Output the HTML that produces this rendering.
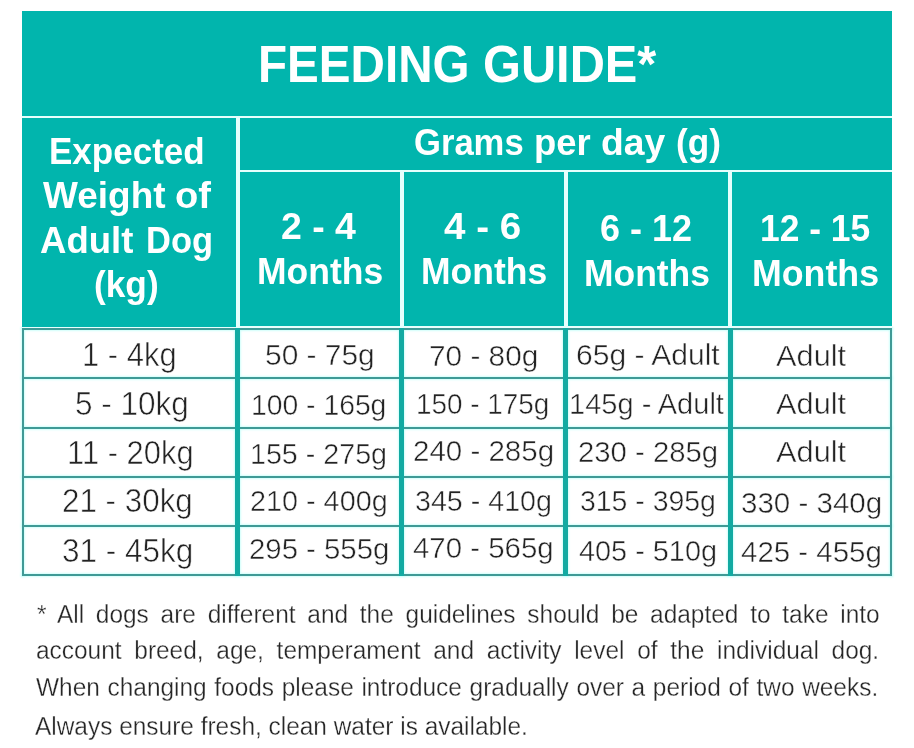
<!DOCTYPE html>
<html lang="en">
<head>
<meta charset="utf-8">
<title>Feeding Guide</title>
<style>
html,body{margin:0;padding:0;background:#ffffff;}
body{width:914px;height:748px;position:relative;overflow:hidden;font-family:"Liberation Sans",Arial,sans-serif;}
.r{position:absolute;}
.h{box-shadow:0 0 2px 1px rgba(200,255,251,0.85);}
.t{position:absolute;display:block;white-space:pre;line-height:1;transform-origin:0 0;}
</style>
</head>
<body>
<div class="r h" style="left:22px;top:328px;width:870px;height:2px"></div>
<div class="r h" style="left:22px;top:377px;width:870px;height:2px"></div>
<div class="r h" style="left:22px;top:427px;width:870px;height:2px"></div>
<div class="r h" style="left:22px;top:476px;width:870px;height:2px"></div>
<div class="r h" style="left:22px;top:525px;width:870px;height:2px"></div>
<div class="r h" style="left:22px;top:574px;width:870px;height:2px"></div>
<div class="r h" style="left:22px;top:328px;width:2px;height:248px"></div>
<div class="r h" style="left:890px;top:328px;width:2px;height:248px"></div>
<div class="r h" style="left:235.2px;top:328px;width:4.7px;height:248px"></div>
<div class="r h" style="left:399.2px;top:328px;width:4.8px;height:248px"></div>
<div class="r h" style="left:563px;top:328px;width:5px;height:248px"></div>
<div class="r h" style="left:728px;top:328px;width:5px;height:248px"></div>
<div class="r" style="left:22px;top:11px;width:870px;height:317px;background:#e6fffd"></div>
<div class="r" style="left:22px;top:11px;width:870px;height:105px;background:#01b5ad"></div>
<div class="r" style="left:22px;top:118px;width:214px;height:208.5px;background:#01b5ad"></div>
<div class="r" style="left:240px;top:118px;width:652px;height:51.7px;background:#01b5ad"></div>
<div class="r" style="left:240px;top:172px;width:160px;height:153.8px;background:#01b5ad"></div>
<div class="r" style="left:404px;top:172px;width:160px;height:153.8px;background:#01b5ad"></div>
<div class="r" style="left:568px;top:172px;width:160px;height:153.8px;background:#01b5ad"></div>
<div class="r" style="left:732px;top:172px;width:160px;height:153.8px;background:#01b5ad"></div>
<div class="r" style="left:22px;top:328px;width:870px;height:2px;background:#3f9a96"></div>
<div class="r" style="left:22px;top:377px;width:870px;height:2px;background:#3f9a96"></div>
<div class="r" style="left:22px;top:427px;width:870px;height:2px;background:#3f9a96"></div>
<div class="r" style="left:22px;top:476px;width:870px;height:2px;background:#3f9a96"></div>
<div class="r" style="left:22px;top:525px;width:870px;height:2px;background:#3f9a96"></div>
<div class="r" style="left:22px;top:574px;width:870px;height:2px;background:#3f9a96"></div>
<div class="r" style="left:22px;top:328px;width:2px;height:248px;background:#3f9a96"></div>
<div class="r" style="left:890px;top:328px;width:2px;height:248px;background:#3f9a96"></div>
<div class="r" style="left:235.2px;top:328px;width:4.7px;height:248px;background:#12aaa2"></div>
<div class="r" style="left:399.2px;top:328px;width:4.8px;height:248px;background:#12aaa2"></div>
<div class="r" style="left:563px;top:328px;width:5px;height:248px;background:#12aaa2"></div>
<div class="r" style="left:728px;top:328px;width:5px;height:248px;background:#12aaa2"></div>
<div><span class="t" style="left:258.24px;top:39px;font-size:51.7px;font-weight:700;color:#ffffff;transform:scaleX(0.9206);">FEEDING</span> <span class="t" style="left:482.51px;top:39px;font-size:51.7px;font-weight:700;color:#ffffff;transform:scaleX(0.9429);">GUIDE*</span></div>
<div><span class="t" style="left:49.11px;top:133px;font-size:37px;font-weight:700;color:#ffffff;transform:scaleX(0.9463);">Expected</span> <span class="t" style="left:43.00px;top:177px;font-size:37px;font-weight:700;color:#ffffff;transform:scaleX(0.9992);">Weight</span> <span class="t" style="left:174.84px;top:177px;font-size:37px;font-weight:700;color:#ffffff;transform:scaleX(1.0303);">of</span> <span class="t" style="left:40.41px;top:222px;font-size:37px;font-weight:700;color:#ffffff;transform:scaleX(0.9871);">Adult</span> <span class="t" style="left:146.14px;top:222px;font-size:37px;font-weight:700;color:#ffffff;transform:scaleX(0.9313);">Dog</span> <span class="t" style="left:94.09px;top:266px;font-size:37px;font-weight:700;color:#ffffff;transform:scaleX(0.9531);">(kg)</span></div>
<div><span class="t" style="left:414.13px;top:124px;font-size:37px;font-weight:700;color:#ffffff;transform:scaleX(0.9351);">Grams</span> <span class="t" style="left:534.33px;top:124px;font-size:37px;font-weight:700;color:#ffffff;transform:scaleX(0.9855);">per</span> <span class="t" style="left:600.78px;top:124px;font-size:37px;font-weight:700;color:#ffffff;transform:scaleX(1.0082);">day</span> <span class="t" style="left:676.20px;top:124px;font-size:37px;font-weight:700;color:#ffffff;transform:scaleX(0.9512);">(g)</span></div>
<div class="t" style="left:281.49px;top:208px;font-size:37px;font-weight:700;color:#ffffff;transform:scaleX(1.0123);">2 - 4</div>
<div class="t" style="left:256.98px;top:253px;font-size:37px;font-weight:700;color:#ffffff;transform:scaleX(0.9594);">Months</div>
<div class="t" style="left:444.36px;top:208px;font-size:37px;font-weight:700;color:#ffffff;transform:scaleX(1.0417);">4 - 6</div>
<div class="t" style="left:420.98px;top:253px;font-size:37px;font-weight:700;color:#ffffff;transform:scaleX(0.9594);">Months</div>
<div class="t" style="left:600.13px;top:210px;font-size:37px;font-weight:700;color:#ffffff;transform:scaleX(0.9728);">6 - 12</div>
<div class="t" style="left:584.18px;top:255px;font-size:37px;font-weight:700;color:#ffffff;transform:scaleX(0.9578);">Months</div>
<div class="t" style="left:760.39px;top:210px;font-size:37px;font-weight:700;color:#ffffff;transform:scaleX(0.9571);">12 - 15</div>
<div class="t" style="left:752.47px;top:255px;font-size:37px;font-weight:700;color:#ffffff;transform:scaleX(0.9656);">Months</div>
<div class="t" style="left:82.13px;top:338px;font-size:33.5px;font-weight:400;color:#232323;transform:scaleX(0.9237);-webkit-text-stroke:0.6px #fff;">1 - 4kg</div>
<div class="t" style="left:265.17px;top:340px;font-size:29.5px;font-weight:400;color:#232323;transform:scaleX(1.0135);-webkit-text-stroke:0.5px #fff;">50 - 75g</div>
<div class="t" style="left:428.98px;top:341px;font-size:29.5px;font-weight:400;color:#232323;transform:scaleX(1.0096);-webkit-text-stroke:0.5px #fff;">70 - 80g</div>
<div class="t" style="left:575.56px;top:340px;font-size:29.5px;font-weight:400;color:#232323;transform:scaleX(1.0188);-webkit-text-stroke:0.5px #fff;">65g - Adult</div>
<div class="t" style="left:776.16px;top:341px;font-size:29.5px;font-weight:400;color:#232323;transform:scaleX(1.0431);-webkit-text-stroke:0.5px #fff;">Adult</div>
<div class="t" style="left:75.32px;top:387px;font-size:33.5px;font-weight:400;color:#232323;transform:scaleX(0.9405);-webkit-text-stroke:0.6px #fff;">5 - 10kg</div>
<div class="t" style="left:251.12px;top:390px;font-size:29.5px;font-weight:400;color:#232323;transform:scaleX(0.9596);-webkit-text-stroke:0.5px #fff;">100 - 165g</div>
<div class="t" style="left:416.36px;top:389px;font-size:29.5px;font-weight:400;color:#232323;transform:scaleX(0.9456);-webkit-text-stroke:0.5px #fff;">150 - 175g</div>
<div class="t" style="left:568.95px;top:389px;font-size:29.5px;font-weight:400;color:#232323;transform:scaleX(0.9838);-webkit-text-stroke:0.5px #fff;">145g - Adult</div>
<div class="t" style="left:776.16px;top:389px;font-size:29.5px;font-weight:400;color:#232323;transform:scaleX(1.0431);-webkit-text-stroke:0.5px #fff;">Adult</div>
<div class="t" style="left:66.63px;top:436px;font-size:33.5px;font-weight:400;color:#232323;transform:scaleX(0.9237);-webkit-text-stroke:0.6px #fff;">11 - 20kg</div>
<div class="t" style="left:250.29px;top:439px;font-size:29.5px;font-weight:400;color:#232323;transform:scaleX(0.9713);-webkit-text-stroke:0.5px #fff;">155 - 275g</div>
<div class="t" style="left:413.00px;top:436px;font-size:29.5px;font-weight:400;color:#232323;transform:scaleX(1.0000);-webkit-text-stroke:0.5px #fff;">240 - 285g</div>
<div class="t" style="left:577.71px;top:437px;font-size:29.5px;font-weight:400;color:#232323;transform:scaleX(0.9934);-webkit-text-stroke:0.5px #fff;">230 - 285g</div>
<div class="t" style="left:776.16px;top:437px;font-size:29.5px;font-weight:400;color:#232323;transform:scaleX(1.0431);-webkit-text-stroke:0.5px #fff;">Adult</div>
<div class="t" style="left:62.13px;top:484px;font-size:33.5px;font-weight:400;color:#232323;transform:scaleX(0.9363);-webkit-text-stroke:0.6px #fff;">21 - 30kg</div>
<div class="t" style="left:250.45px;top:486px;font-size:29.5px;font-weight:400;color:#232323;transform:scaleX(0.9759);-webkit-text-stroke:0.5px #fff;">210 - 400g</div>
<div class="t" style="left:415.06px;top:486px;font-size:29.5px;font-weight:400;color:#232323;transform:scaleX(0.9708);-webkit-text-stroke:0.5px #fff;">345 - 410g</div>
<div class="t" style="left:580.07px;top:486px;font-size:29.5px;font-weight:400;color:#232323;transform:scaleX(0.9635);-webkit-text-stroke:0.5px #fff;">315 - 395g</div>
<div class="t" style="left:740.90px;top:488px;font-size:29.5px;font-weight:400;color:#232323;transform:scaleX(1.0007);-webkit-text-stroke:0.5px #fff;">330 - 340g</div>
<div class="t" style="left:61.62px;top:534px;font-size:33.5px;font-weight:400;color:#232323;transform:scaleX(0.9400);-webkit-text-stroke:0.6px #fff;">31 - 45kg</div>
<div class="t" style="left:249.21px;top:534px;font-size:29.5px;font-weight:400;color:#232323;transform:scaleX(0.9949);-webkit-text-stroke:0.5px #fff;">295 - 555g</div>
<div class="t" style="left:413.40px;top:533px;font-size:29.5px;font-weight:400;color:#232323;transform:scaleX(0.9971);-webkit-text-stroke:0.5px #fff;">470 - 565g</div>
<div class="t" style="left:579.42px;top:536px;font-size:29.5px;font-weight:400;color:#232323;transform:scaleX(0.9783);-webkit-text-stroke:0.5px #fff;">405 - 510g</div>
<div class="t" style="left:741.20px;top:537px;font-size:29.5px;font-weight:400;color:#232323;transform:scaleX(0.9986);-webkit-text-stroke:0.5px #fff;">425 - 455g</div>
<div class="t" style="left:36.62px;top:602px;font-size:25px;font-weight:400;color:#262626;transform:scaleX(0.9772);-webkit-text-stroke:0.3px #fff;word-spacing:5.104px;">* All dogs are different and the guidelines should be adapted to take into</div>
<div class="t" style="left:36.02px;top:638px;font-size:25px;font-weight:400;color:#262626;transform:scaleX(0.9772);-webkit-text-stroke:0.3px #fff;word-spacing:6.094px;">account breed, age, temperament and activity level of the individual dog.</div>
<div class="t" style="left:36.02px;top:675px;font-size:25px;font-weight:400;color:#262626;transform:scaleX(0.9772);-webkit-text-stroke:0.3px #fff;word-spacing:0.902px;">When changing foods please introduce gradually over a period of two weeks.</div>
<div class="t" style="left:35.42px;top:714px;font-size:25px;font-weight:400;color:#262626;transform:scaleX(0.9772);-webkit-text-stroke:0.3px #fff;">Always ensure fresh, clean water is available.</div>
</body>
</html>
